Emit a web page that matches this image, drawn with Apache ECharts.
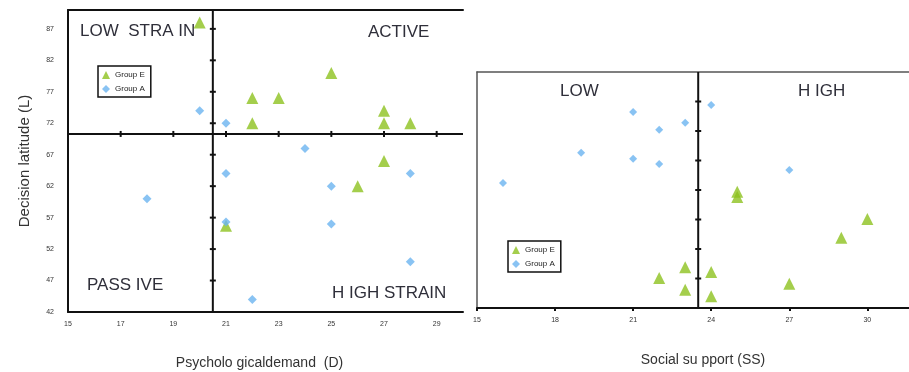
<!DOCTYPE html>
<html>
<head>
<meta charset="utf-8">
<script src="https://cdn.jsdelivr.net/npm/echarts@6/dist/echarts.min.js"></script>
<style>
  html, body { margin: 0; padding: 0; background: #fff; }
  #chart { width: 909px; height: 372px; }
</style>
</head>
<body>
<div id="chart"></div>
<script>
// 左图：心理需求 (D) vs 决策自由度 (L)
const leftGroupE = [[20, 88], [22, 76], [23, 76], [25, 80], [22, 72], [27, 74], [27, 72], [28, 72], [27, 66], [26, 62], [21, 55.7]];
const leftGroupA = [[20, 74], [21, 72], [24, 68], [21, 64], [25, 62], [28, 64], [18, 60], [21, 56.3], [25, 56], [28, 50], [22, 44]];
const leftXLabels = [15, 17, 19, 21, 23, 25, 27, 29];
const leftYLabels = [42, 47, 52, 57, 62, 67, 72, 77, 82, 87];
const leftCross = [20.5, 70.3];           // 象限分界 (D, L)
const leftXTicks = [17, 19, 21, 23, 25, 27, 29];
const leftYTicks = [47, 52, 57, 62, 67, 72, 77, 82, 87];

// 右图：社会支持 (SS)
const rightGroupE = [[22, 47.1], [23, 48.9], [23, 45.1], [24, 48.1], [24, 44], [25, 61.7], [25, 60.8], [27, 46.1], [29, 53.9], [30, 57.1]];
const rightGroupA = [[21, 75.2], [22, 72.2], [23, 73.4], [19, 68.3], [21, 67.3], [22, 66.4], [16, 63.2], [24, 76.4], [27, 65.4]];
const rightXLabels = [15, 18, 21, 24, 27, 30];
const rightCrossX = 23.5;
const rightYTicks = [47, 52, 57, 62, 67, 72, 77];

const GREEN = '#8dc21f';
const BLUE = '#6cb4f0';
const TXT = '#2f2f3a';

const chart = echarts.init(document.getElementById('chart'));

// 画分界线 + 十字刻度（用坐标轴换算，不写死像素）
function crossLine(xIdx, yIdx, vertical, at, ticks, from, to) {
  return {
    type: 'custom',
    xAxisIndex: xIdx,
    yAxisIndex: yIdx,
    silent: true,
    z: 1,
    data: [0],
    renderItem: function (params, api) {
      const kids = [];
      const a = vertical ? api.coord([at, from]) : api.coord([from, at]);
      const b = vertical ? api.coord([at, to]) : api.coord([to, at]);
      kids.push({ type: 'line', shape: { x1: a[0], y1: a[1], x2: b[0], y2: b[1] }, style: { stroke: '#111', lineWidth: 2 } });
      ticks.forEach(function (t) {
        const p = vertical ? api.coord([at, t]) : api.coord([t, at]);
        const s = vertical
          ? { x1: p[0] - 3, y1: p[1], x2: p[0] + 3, y2: p[1] }
          : { x1: p[0], y1: p[1] - 3, x2: p[0], y2: p[1] + 3 };
        kids.push({ type: 'line', shape: s, style: { stroke: '#111', lineWidth: 2 } });
      });
      return { type: 'group', children: kids };
    }
  };
}

function labelFmt(list) {
  return function (v) { return list.indexOf(Math.round(v * 1000) / 1000) >= 0 ? String(v) : ''; };
}

const legendBase = {
  orient: 'vertical',
  data: [{ name: 'Group E', icon: 'triangle' }, { name: 'Group A', icon: 'diamond' }],
  itemWidth: 8,
  itemHeight: 8,
  itemGap: 6,
  padding: [5, 6, 4, 4],
  borderColor: '#111',
  borderWidth: 1.5,
  textStyle: { fontSize: 8, color: '#222', fontFamily: 'Liberation Sans' }
};

const quad = function (text, left, top) {
  return { type: 'text', left: left, top: top, style: { text: text, fontSize: 17, fill: TXT, fontFamily: 'Liberation Sans' } };
};

const option = {
  animation: false,
  textStyle: { fontFamily: 'Liberation Sans' },
  legend: [
    Object.assign({ left: 98, top: 66 }, legendBase),
    Object.assign({ left: 508, top: 241 }, legendBase)
  ],
  grid: [
    { left: 68, top: 10, width: 395, height: 302, outerBoundsMode: 'none' },
    { left: 477, top: 72, width: 432, height: 236, outerBoundsMode: 'none' }
  ],
  xAxis: [
    {
      gridIndex: 0, type: 'value', min: 15, max: 30, interval: 1,
      name: 'Psycholo gicaldemand  (D)', nameLocation: 'middle', nameGap: 44,
      nameTextStyle: { fontSize: 14, color: '#333', padding: [0, 12, 0, 0] },
      axisLine: { lineStyle: { color: '#111', width: 2 } },
      axisTick: { show: false }, splitLine: { show: false },
      axisLabel: { formatter: labelFmt(leftXLabels), fontSize: 7, color: '#333', margin: 9, showMaxLabel: false }
    },
    {
      gridIndex: 0, type: 'value', position: 'top', min: 15, max: 30,
      axisLine: { show: true, lineStyle: { color: '#111', width: 2 } },
      axisTick: { show: false }, axisLabel: { show: false }, splitLine: { show: false }
    },
    {
      gridIndex: 1, type: 'value', min: 15, max: 31.6, interval: 3,
      name: 'Social su pport (SS)', nameLocation: 'middle', nameGap: 45,
      nameTextStyle: { fontSize: 14, color: '#333', padding: [0, 0, 0, 20] },
      axisLine: { lineStyle: { color: '#111', width: 2 } },
      axisTick: { show: true, length: 3, lineStyle: { color: '#111', width: 2 } },
      splitLine: { show: false },
      axisLabel: { formatter: labelFmt(rightXLabels), fontSize: 7, color: '#333', margin: 9, showMaxLabel: false }
    },
    {
      gridIndex: 1, type: 'value', position: 'top', min: 15, max: 31.6,
      axisLine: { show: true, lineStyle: { color: '#555', width: 1.5 } },
      axisTick: { show: false }, axisLabel: { show: false }, splitLine: { show: false }
    }
  ],
  yAxis: [
    {
      gridIndex: 0, type: 'value', min: 42, max: 90, interval: 1,
      name: 'Decision latitude (L)', nameLocation: 'middle', nameGap: 36,
      nameTextStyle: { fontSize: 15, color: '#333' },
      axisLine: { show: true, lineStyle: { color: '#111', width: 2 } },
      axisTick: { show: false }, splitLine: { show: false },
      axisLabel: { formatter: labelFmt(leftYLabels), fontSize: 7, color: '#333', margin: 14 }
    },
    {
      gridIndex: 1, type: 'value', min: 42, max: 82,
      axisLine: { show: true, lineStyle: { color: '#555', width: 1.5 } },
      axisTick: { show: false }, axisLabel: { show: false }, splitLine: { show: false }
    }
  ],
  graphic: [
    quad('LOW  STRA IN', 80, 23),
    quad('ACTIVE', 368, 24),
    quad('PASS IVE', 87, 277),
    quad('H IGH STRAIN', 332, 285),
    quad('LOW', 560, 83),
    quad('H IGH', 798, 83)
  ],
  series: [
    crossLine(0, 0, true, leftCross[0], leftYTicks, 42, 90),
    crossLine(0, 0, false, leftCross[1], leftXTicks, 15, 30),
    crossLine(2, 1, true, rightCrossX, rightYTicks, 42, 82),
    { name: 'Group A', type: 'scatter', xAxisIndex: 0, yAxisIndex: 0, data: leftGroupA, symbol: 'diamond', symbolSize: 9, itemStyle: { color: BLUE }, z: 3 },
    { name: 'Group E', type: 'scatter', xAxisIndex: 0, yAxisIndex: 0, data: leftGroupE, symbol: 'triangle', symbolSize: 12, itemStyle: { color: GREEN }, z: 2 },
    { name: 'Group A', type: 'scatter', xAxisIndex: 2, yAxisIndex: 1, data: rightGroupA, symbol: 'diamond', symbolSize: 8, itemStyle: { color: BLUE }, z: 3 },
    { name: 'Group E', type: 'scatter', xAxisIndex: 2, yAxisIndex: 1, data: rightGroupE, symbol: 'triangle', symbolSize: 12, itemStyle: { color: GREEN }, z: 2 }
  ]
};

chart.setOption(option);
window.addEventListener('resize', () => chart.resize());
</script>
</body>
</html>
